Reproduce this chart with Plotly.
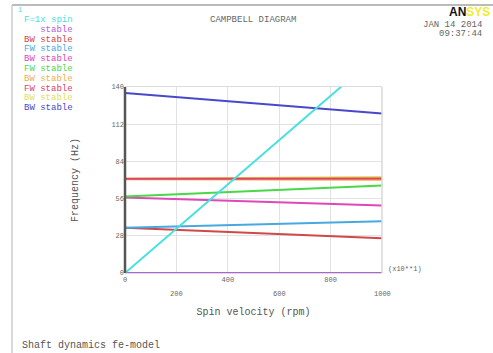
import plotly.graph_objects as go

# ---- data ----
spin = [0, 1000]  # spin velocity (x10**1 rpm)
names = ["F=1x spin", "   stable", "BW stable", "FW stable", "BW stable",
         "FW stable", "BW stable", "FW stable", "BW stable", "BW stable"]
colors = ["#48e0e0", "#b060d8", "#d04848", "#48a8e0", "#e048b8",
          "#48d848", "#f0b048", "#e0406a", "#e0e060", "#4848c8"]
freqs = [
    [0.0, 166.7],    # F=1x spin
    [0.0, 0.0],      # stable
    [34.0, 26.2],    # BW
    [34.0, 39.0],    # FW
    [56.8, 50.8],    # BW
    [57.6, 65.8],    # FW
    [70.6, 70.2],    # BW
    [71.0, 71.2],    # FW
    [71.0, 72.2],    # BW
    [135.5, 120.0],  # BW
]
draw_order = [1, 2, 3, 4, 5, 8, 6, 7, 9, 0]
yticks = [0, 28, 56, 84, 112, 140]
xticks_upper = [0, 400, 800]
xticks_lower = [200, 600, 1000]

MONO = "Liberation Mono, Courier New, monospace"
fig = go.Figure()
for i in draw_order:
    fig.add_trace(go.Scatter(x=spin, y=freqs[i], mode="lines", name=names[i],
                             line=dict(color=colors[i], width=2), showlegend=False,
                             cliponaxis=True))

W, H = 493, 353
L, R, T, B = 125, 382, 87, 273   # plot area in pixels
pw, ph = R - L, B - T
def px(x): return (x - L) / pw
def py(y): return (B - y) / ph

tickfont = dict(family=MONO, size=7, color="#666")
fig.update_layout(
    width=W, height=H,
    margin=dict(l=L, r=W - R, t=T, b=H - B, pad=0),
    paper_bgcolor="white", plot_bgcolor="white",
    font=dict(family=MONO, size=8, color="#555"),
    xaxis=dict(range=[0, 1000], tickvals=xticks_upper + xticks_lower,
               ticktext=[str(v) for v in xticks_upper] + [" "] * 3,
               showgrid=True, gridcolor="#e2e2e2", gridwidth=1,
               zeroline=False, showline=True, linecolor="#dcdcdc", mirror=True,
               ticks="", tickfont=tickfont,
               title=dict(text="Spin velocity (rpm)", font=dict(family=MONO, size=10, color="#555"),
                          standoff=24)),
    yaxis=dict(range=[0, 140], tickvals=yticks,
               showgrid=True, gridcolor="#e2e2e2", gridwidth=1,
               zeroline=False, showline=False, ticks="",
               tickfont=tickfont,
               title=dict(text="Frequency (Hz)", font=dict(family=MONO, size=10, color="#555"),
                          standoff=30)),
)

shapes = []
shapes.append(dict(type="line", xref="paper", yref="paper", x0=0, x1=0, y0=0, y1=1,
                   line=dict(color="#555", width=2.5)))
shapes.append(dict(type="line", xref="paper", yref="paper", x0=1, x1=1, y0=0, y1=1,
                   line=dict(color="#d8d8d8", width=1.5)))
shapes.append(dict(type="line", xref="paper", yref="paper", x0=px(12), x1=px(493), y0=py(5), y1=py(5),
                   line=dict(color="#bbb", width=2)))
shapes.append(dict(type="line", xref="paper", yref="paper", x0=px(12), x1=px(12), y0=py(5), y1=py(353),
                   line=dict(color="#ccc", width=1.5)))
fig.update_layout(shapes=shapes)

ann = []
def text(x, y, s, color="#666", size=8, xanchor="left", **kw):
    ann.append(dict(xref="paper", yref="paper", x=px(x), y=py(y), text=s, showarrow=False,
                    xanchor=xanchor, yanchor="middle", font=dict(family=MONO, size=size, color=color), **kw))

# staggered lower row of x tick labels, placed on the x data scale
for v in xticks_lower:
    ann.append(dict(xref="x", yref="paper", x=v, y=py(294), text=str(v), showarrow=False,
                    xanchor="center", yanchor="middle", font=tickfont))

text(16, 10, "1", color="#48e0e0", size=7)
for k, (n, c) in enumerate(zip(names, colors)):
    text(22, 20 + k * 9.8, n.replace(" ", "&nbsp;"), color=c, size=9)
text(253, 20, "CAMPBELL DIAGRAM", xanchor="center", size=9)
text(484, 25, "JAN 14 2014", xanchor="right", size=9)
text(484, 34, "09:37:44", xanchor="right", size=9)
ann.append(dict(xref="paper", yref="paper", x=px(492), y=py(12), showarrow=False,
                xanchor="right", yanchor="middle",
                text="<b><span style='color:#111'>AN</span><span style='color:#f2ec30'>SYS</span></b>",
                font=dict(family="Arial, Liberation Sans", size=12)))
text(386, 269, "(x10**1)", size=7)
text(20, 345, "Shaft dynamics fe-model", size=10, color="#555")
fig.update_layout(annotations=ann)

fig.write_html("out.html", config={"displayModeBar": False},
               post_script="document.body.style.margin='0';")
